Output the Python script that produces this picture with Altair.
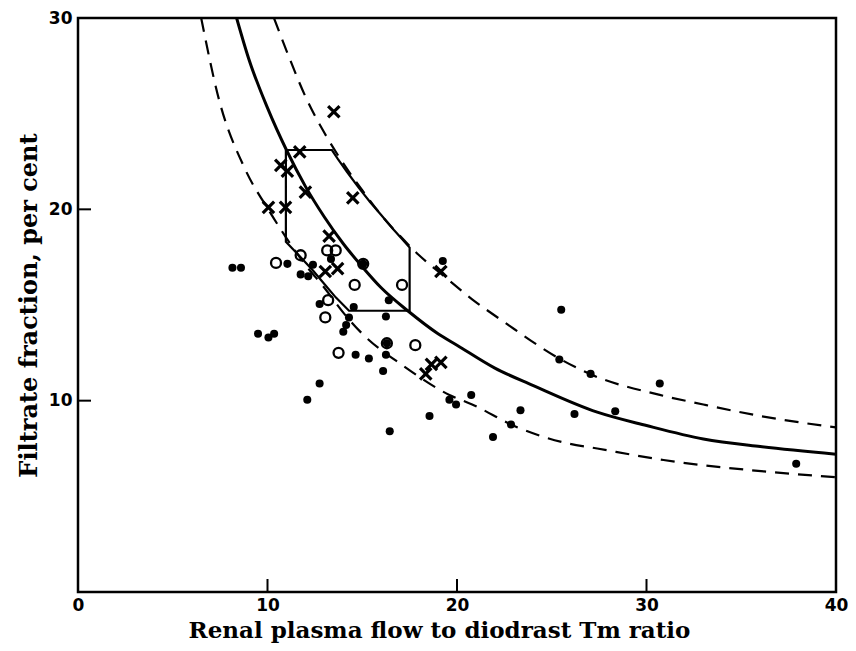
import altair as alt
import pandas as pd

# ---- data ----
cross_x = [13.5, 11.7, 10.7, 11.05, 12.0, 14.5, 10.05, 10.95, 13.25, 13.05, 13.7, 19.15, 18.65, 19.15, 18.35]
cross_y = [25.1, 23.0, 22.3, 22.0, 20.9, 20.6, 20.1, 20.1, 18.6, 16.75, 16.9, 16.75, 11.9, 12.0, 11.4]

open_x = [11.75, 10.45, 13.15, 13.6, 14.6, 17.1, 13.2, 13.05, 13.75, 17.8, 15.05, 16.3]
open_y = [17.6, 17.2, 17.85, 17.85, 16.05, 16.05, 15.25, 14.35, 12.5, 12.9, 17.15, 13.0]

dot_x = [8.15, 8.6, 11.05, 12.4, 11.75, 12.15, 15.05, 12.75, 14.55, 16.4, 14.3, 14.15, 14.0,
         16.25, 9.5, 10.05, 10.35, 16.3, 14.65, 15.35, 16.25, 16.1, 12.75, 12.1, 16.45, 18.55,
         19.6, 19.95, 19.25, 25.5, 25.4, 27.05, 30.7, 20.75, 23.35, 26.2, 28.35, 22.85, 21.9,
         37.9, 13.35]
dot_y = [16.95, 16.95, 17.15, 17.1, 16.6, 16.5, 17.15, 15.05, 14.9, 15.25, 14.35, 13.95, 13.6,
         14.4, 13.5, 13.3, 13.5, 13.0, 12.4, 12.2, 12.4, 11.55, 10.9, 10.05, 8.4, 9.2,
         10.05, 9.8, 17.3, 14.75, 12.15, 11.4, 10.9, 10.3, 9.5, 9.3, 9.45, 8.75, 8.1,
         6.7, 17.4]

mid_x = [8.37, 9, 10, 11, 12, 13, 14, 15, 16, 17.4, 19, 20, 22, 24, 27.4, 30, 33, 36, 40]
mid_y = [30, 27.9, 25.3, 23.1, 21.2, 19.6, 18.2, 17.0, 15.9, 14.7, 13.5, 12.9, 11.7, 10.8, 9.4, 8.7, 8.0, 7.6, 7.2]

up_x = [10.34, 11, 12, 13, 14, 15, 16, 17, 18, 19.2, 20.8, 22.5, 25.4, 27, 30.7, 33, 36, 40]
up_y = [30, 28.3, 25.9, 24.0, 22.4, 21.0, 19.7, 18.6, 17.6, 16.6, 15.3, 14.1, 12.2, 11.4, 10.3, 9.8, 9.2, 8.6]

lo_x = [6.5, 7.45, 8.77, 10.1, 11, 12, 13, 14, 15, 17.2, 19.6, 20.8, 23.2, 25.7, 27.4, 30.9, 36.2, 40]
lo_y = [30, 25.7, 22.2, 19.9, 18.5, 17.1, 15.9, 14.6, 13.5, 11.8, 10.3, 9.8, 8.6, 7.8, 7.5, 6.9, 6.3, 6.0]

box_x = [10.97, 13.4, 13.7, 14.2, 14.8, 15.4, 16.0, 16.6, 17.1, 17.5, 17.5, 14.3, 13.6, 13.0, 12.4, 11.7, 10.97, 10.97]
box_y = [23.1, 23.1, 22.65, 21.95, 21.15, 20.4, 19.7, 19.0, 18.45, 18.0, 14.7, 14.7, 15.4, 16.1, 16.8, 17.55, 18.3, 23.1]

x_ticks = [10, 20, 30]
y_ticks = [10, 20]

# ---- chart ----
W, H = 758, 574
xs = alt.Scale(domain=[0, 40], nice=False, zero=False)
ys = alt.Scale(domain=[0, 30], nice=False, zero=False)

lab_font = "DejaVu Sans"
tit_font = "DejaVu Serif"

xaxis = alt.Axis(values=[0, 10, 20, 30, 40], ticks=False, domain=False, grid=False,
                 labelFont=lab_font, labelFontSize=17, labelFontWeight="bold", labelColor="black",
                 labelPadding=5, labelFlush=False,
                 title="Renal plasma flow to diodrast Tm ratio", titleFont=tit_font,
                 titleFontSize=23, titleFontWeight="bold", titleColor="black", titlePadding=6,
                 titleX=361, titleAlign="center")
yaxis = alt.Axis(values=[10, 20, 30], ticks=False, domain=False, grid=False,
                 labelFont=lab_font, labelFontSize=17, labelFontWeight="bold", labelColor="black",
                 labelPadding=6, labelFlush=False,
                 title="Filtrate fraction, per cent", titleFont=tit_font,
                 titleFontSize=24, titleFontWeight="bold", titleColor="black", titlePadding=7)

X = alt.X("x:Q", scale=xs, axis=xaxis)
Y = alt.Y("y:Q", scale=ys, axis=yaxis)

def df(xv, yv):
    return pd.DataFrame({"x": xv, "y": yv, "i": list(range(len(xv)))})

mid = alt.Chart(df(mid_x, mid_y)).mark_line(color="black", strokeWidth=3, interpolate="monotone", clip=True).encode(x=X, y=Y, order="i:Q")
up = alt.Chart(df(up_x, up_y)).mark_line(color="black", strokeWidth=2.2, strokeDash=[14, 9], interpolate="monotone", clip=True).encode(x=X, y=Y, order="i:Q")
lo = alt.Chart(df(lo_x, lo_y)).mark_line(color="black", strokeWidth=2.2, strokeDash=[14, 9], interpolate="monotone", clip=True).encode(x=X, y=Y, order="i:Q")
box = alt.Chart(df(box_x, box_y)).mark_line(color="black", strokeWidth=2.2).encode(x=X, y=Y, order="i:Q")

dots = alt.Chart(df(dot_x, dot_y)).mark_point(shape="circle", filled=True, color="black", size=65, opacity=1).encode(x=X, y=Y)
opens = alt.Chart(df(open_x, open_y)).mark_point(shape="circle", filled=False, color="black", size=100, strokeWidth=2.3, opacity=1).encode(x=X, y=Y)
crosses = alt.Chart(df(cross_x, cross_y)).mark_point(shape="M-1,-1L1,1M-1,1L1,-1", filled=False, color="black", size=130, strokeWidth=3.2, opacity=1).encode(x=X, y=Y)

xt = alt.Chart(pd.DataFrame({"x": x_ticks})).mark_rule(color="black", strokeWidth=2).encode(
    x=alt.X("x:Q", scale=xs, axis=xaxis), y=alt.value(H), y2=alt.value(H - 13))
yt = alt.Chart(pd.DataFrame({"y": y_ticks})).mark_rule(color="black", strokeWidth=2).encode(
    y=alt.Y("y:Q", scale=ys, axis=yaxis), x=alt.value(0), x2=alt.value(13))

chart = alt.layer(box, lo, up, mid, xt, yt, dots, opens, crosses).properties(
    width=W, height=H,
    autosize=alt.AutoSizeParams(type="none"),
    padding={"left": 70, "top": 10, "right": 12, "bottom": 51},
    background="white",
).configure_view(stroke="black", strokeWidth=2.5)

chart.save("out.html", embed_options={"renderer": "svg", "actions": False})
